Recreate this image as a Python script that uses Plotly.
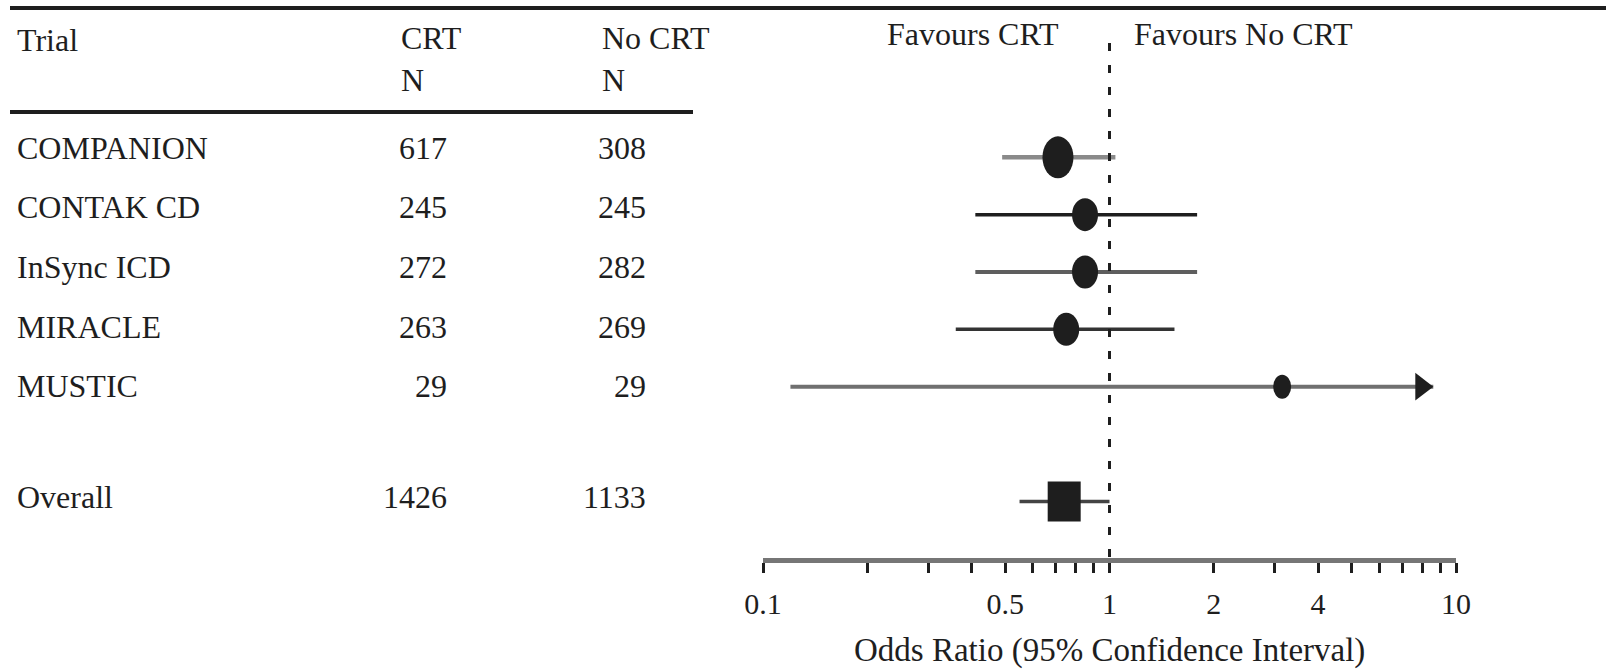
import plotly.graph_objects as go

# ---- data -------------------------------------------------------------
trials = ["COMPANION", "CONTAK CD", "InSync ICD", "MIRACLE", "MUSTIC"]
crt_n = [617, 245, 272, 263, 29]
no_crt_n = [308, 245, 282, 269, 29]
odds_ratio = [0.71, 0.85, 0.85, 0.75, 3.15]
ci_low = [0.49, 0.41, 0.41, 0.36, 0.12]
ci_high = [1.04, 1.79, 1.79, 1.54, 8.6]   # MUSTIC upper limit runs off the scale (arrow)

overall_label = "Overall"
overall_crt_n = 1426
overall_no_crt_n = 1133
overall_or = 0.74
overall_ci_low = 0.55
overall_ci_high = 1.0

tick_values = [0.1, 0.2, 0.3, 0.4, 0.5, 0.6, 0.7, 0.8, 0.9, 1,
               2, 3, 4, 5, 6, 7, 8, 9, 10]
tick_text = ["0.1", "", "", "", "0.5", "", "", "", "", "1",
             "2", "", "4", "", "", "", "", "", "10"]

# ---- styling ----------------------------------------------------------
W, H = 1606, 672
FONT = "Liberation Serif"
INK = "#1e1e1e"
line_colors = ["#8a8a8a", "#1e1e1e", "#5e5e5e", "#333333", "#707070"]
line_widths = [4.5, 3.5, 4, 3.5, 4]
dot_w = [31, 26, 26, 26, 18]
dot_h = [42, 33, 33, 33, 24]
overall_box = (33, 40)
ARROW_SIZE = 24                        # triangle-right marker size (px)

ROW0_PX, ROW_STEP = 157.3, 57.35      # pixel centre of first data row, row pitch
AXIS_PX = 557.5                        # pixel height of the odds-ratio axis
X_LEFT_PX, X_RIGHT_PX = 763, 1456      # pixel ends of the 0.1 .. 10 axis
PX_PER_DECADE = (X_RIGHT_PX - X_LEFT_PX) / 2


def px_x(p):
    return p / W


def px_y(p):
    return 1 - p / H


def log_span(value, width_px):
    """Data-space extent of a mark `width_px` wide centred on `value`."""
    f = 10 ** (width_px / 2 / PX_PER_DECADE)
    return value / f, value * f


def shift_px(value, dx_px):
    """Move a value on the log axis by dx_px pixels."""
    return value * 10 ** (dx_px / PX_PER_DECADE)


trial_slots = list(range(len(trials)))
overall_slot = len(trials) + 1

fig = go.Figure()

# confidence intervals
for i, name in enumerate(trials):
    fig.add_trace(go.Scatter(
        x=[ci_low[i], ci_high[i]], y=[trial_slots[i]] * 2,
        mode="lines", line=dict(color=line_colors[i], width=line_widths[i]),
        name=name, showlegend=False, hoverinfo="skip",
    ))
fig.add_trace(go.Scatter(
    x=[overall_ci_low, overall_ci_high], y=[overall_slot] * 2,
    mode="lines", line=dict(color="#444444", width=3.5),
    showlegend=False, hoverinfo="skip",
))

# arrowhead on the interval that runs past the scale: tip sits on the upper limit
# (a triangle-right marker reaches size/2 px to the right of its centre)
fig.add_trace(go.Scatter(
    x=[shift_px(ci_high[-1], -ARROW_SIZE / 2)], y=[trial_slots[-1]],
    mode="markers",
    marker=dict(symbol="triangle-right", size=ARROW_SIZE, color=INK,
                line=dict(width=0)),
    showlegend=False, hoverinfo="skip",
))

# point estimates: hover carriers plus drawn ellipses / box
fig.add_trace(go.Scatter(
    x=odds_ratio + [overall_or], y=trial_slots + [overall_slot],
    mode="markers", marker=dict(size=1, opacity=0),
    text=trials + [overall_label], hovertemplate="%{text}: OR %{x}<extra></extra>",
    showlegend=False,
))

shapes = []
for i in range(len(trials)):
    x0, x1 = log_span(odds_ratio[i], dot_w[i])
    shapes.append(dict(
        type="circle", xref="x", yref="y", ysizemode="pixel",
        x0=x0, x1=x1, yanchor=trial_slots[i],
        y0=-dot_h[i] / 2, y1=dot_h[i] / 2,
        fillcolor=INK, line=dict(width=0),
    ))
x0, x1 = log_span(overall_or, overall_box[0])
shapes.append(dict(
    type="rect", xref="x", yref="y", ysizemode="pixel",
    x0=x0, x1=x1, yanchor=overall_slot,
    y0=-overall_box[1] / 2, y1=overall_box[1] / 2,
    fillcolor=INK, line=dict(width=0),
))

# line of no effect
shapes.append(dict(
    type="line", xref="x", yref="paper", x0=1, x1=1,
    y0=px_y(43), y1=px_y(569),
    line=dict(color=INK, width=3, dash="8px,14px"),
))
# table rules
shapes.append(dict(type="line", xref="paper", yref="paper",
                   x0=px_x(10), x1=1, y0=px_y(8), y1=px_y(8),
                   line=dict(color=INK, width=4)))
shapes.append(dict(type="line", xref="paper", yref="paper",
                   x0=px_x(10), x1=px_x(693), y0=px_y(112), y1=px_y(112),
                   line=dict(color=INK, width=4)))

# ---- table text -------------------------------------------------------
ann = []


def txt(s, x, y, align="left", size=32):
    ann.append(dict(text=s, x=px_x(x), y=px_y(y), xref="paper", yref="paper",
                    xanchor=align, yanchor="middle", showarrow=False,
                    font=dict(family=FONT, size=size, color=INK)))


txt("Trial", 15, 40)
txt("CRT", 399, 38)
txt("N", 399, 80)
txt("No CRT", 600, 38)
txt("N", 600, 80)
txt("Favours CRT", 1061, 34, "right")
txt("Favours No CRT", 1132, 34, "left")

TEXT_ROW0, TEXT_STEP, OVERALL_TEXT_Y = 148, 59.5, 497
for i, name in enumerate(trials):
    y = TEXT_ROW0 + TEXT_STEP * i
    txt(name, 15, y)
    txt(str(crt_n[i]), 449, y, "right")
    txt(str(no_crt_n[i]), 648, y, "right")
txt(overall_label, 15, OVERALL_TEXT_Y)
txt(str(overall_crt_n), 449, OVERALL_TEXT_Y, "right")
txt(str(overall_no_crt_n), 648, OVERALL_TEXT_Y, "right")

txt("Odds Ratio (95% Confidence Interval)", (X_LEFT_PX + X_RIGHT_PX) / 2, 650,
    "center", 33)

y_top = -ROW0_PX / ROW_STEP
y_bottom = (AXIS_PX - ROW0_PX) / ROW_STEP

fig.update_layout(
    width=W, height=H,
    margin=dict(l=0, r=0, t=0, b=0, pad=0, autoexpand=False),
    paper_bgcolor="white", plot_bgcolor="white",
    shapes=shapes, annotations=ann,
    xaxis=dict(
        type="log", range=[-1, 1],
        domain=[px_x(X_LEFT_PX), px_x(X_RIGHT_PX)],
        showline=True, linecolor="#767676", linewidth=5,
        ticks="outside", ticklen=10, tickwidth=3, tickcolor=INK,
        tickvals=tick_values, ticktext=tick_text, ticklabelstandoff=5,
        tickfont=dict(family=FONT, size=30, color=INK),
        showgrid=False, zeroline=False, fixedrange=True, automargin=False,
    ),
    yaxis=dict(
        domain=[px_y(AXIS_PX), 1], range=[y_bottom, y_top],
        visible=False, showgrid=False, zeroline=False, fixedrange=True,
        automargin=False,
    ),
)

fig.write_html("out.html")
